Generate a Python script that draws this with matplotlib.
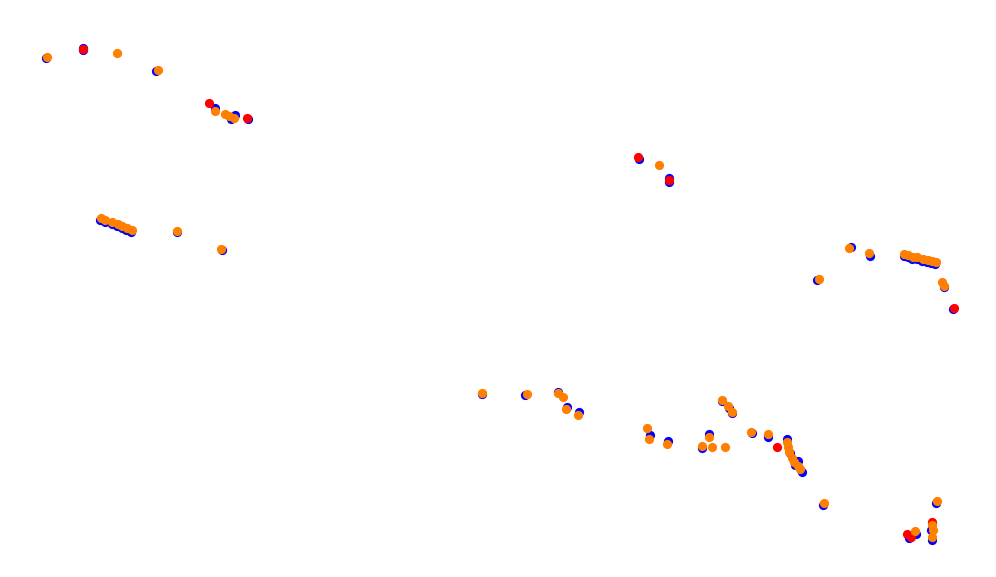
import matplotlib
matplotlib.use("Agg")
import matplotlib.pyplot as plt

# point positions (x to the right, y downwards)
blue_x = [46, 83.3, 83, 156, 215, 234.7, 231, 247.7,
          100, 104.5, 111.5, 117, 121.5, 126, 131, 176.7, 221.7,
          639.3, 669, 669,
          850.7, 870, 903.5, 907.5, 912, 916.5, 922, 927, 931, 935, 817.3, 944, 952.7,
          481.7, 525.3, 557.7, 567, 579.3,
          721.7, 729.3, 732.3, 650, 668.3, 709, 701.7, 752, 767.7, 786.7, 790, 795, 798.3, 801.7,
          823.3, 935.7, 909.3, 916, 930.7, 931.7]
blue_y = [58, 47.5, 50, 71, 107.7, 115.3, 118.7, 118.7,
          219.5, 221.5, 224, 226, 227.5, 230, 231.5, 232.3, 250,
          159, 178, 182,
          246.7, 256, 255.5, 257, 258.5, 259.3, 260.7, 262, 262.7, 264, 280, 287.3, 309.3,
          394, 395, 392.3, 406.7, 412.3,
          401, 408, 412.7, 435, 441, 434.3, 448.3, 433.3, 436.7, 439, 453.3, 465, 461, 471.7,
          505, 502.7, 537.7, 534.3, 530, 540]

red_x = [82.7, 209.3, 246.7, 637.7, 669, 953.7, 776.7, 906.7, 910.5, 932.3]
red_y = [49, 102.7, 118, 156.7, 180, 307.7, 446.7, 534.3, 537, 522.3]

orange_x = [46.7, 116.7, 157.7, 215, 225, 229, 234,
            100.7, 105, 112.3, 117.7, 122.3, 127, 132, 176.7, 220.7,
            659,
            849.3, 869, 904.3, 908.3, 912.7, 917.3, 922.7, 927.7, 931.7, 935.7, 819, 941.7, 943.7,
            481.7, 526.7, 557.7, 563, 566, 577.7,
            721.7, 727.7, 731.7, 646.7, 649, 666.7, 709, 701.7, 712, 725, 751, 767.7,
            786.7, 787.7, 789, 792.3, 794.3, 797.7, 800,
            824.3, 936.7, 915, 932.3, 932.7, 932]
orange_y = [56.7, 52.7, 69.7, 110.7, 113.7, 116, 118,
            217.7, 219.7, 222, 224, 225.7, 228, 229.7, 231, 248.7,
            164.7,
            248.3, 253.3, 253.7, 255.3, 256.7, 257.3, 258.7, 260, 260.7, 262, 278.7, 281.7, 285.7,
            393, 394, 393.3, 396.7, 409, 414.7,
            399.7, 405.7, 411.7, 428.3, 438.7, 443.7, 436.7, 446, 446.7, 446.7, 431.7, 433.7,
            442.3, 447.3, 451.7, 458.3, 461.7, 466, 469.3,
            502.7, 500.7, 531, 525, 530, 536.7]

fig = plt.figure(figsize=(9.96, 5.77), dpi=100, facecolor="white")
ax = fig.add_axes([0, 0, 1, 1])
ax.scatter(blue_x, blue_y, s=44, color="#0000ff", linewidths=0, zorder=1)
ax.scatter(red_x, red_y, s=44, color="#ff0000", linewidths=0, zorder=2)
ax.scatter(orange_x, orange_y, s=44, color="#ff8000", linewidths=0, zorder=3)
ax.set_xlim(0, 996)
ax.set_ylim(577, 0)
ax.axis("off")

fig.savefig("out.png", dpi=100, facecolor="white")
plt.close(fig)
